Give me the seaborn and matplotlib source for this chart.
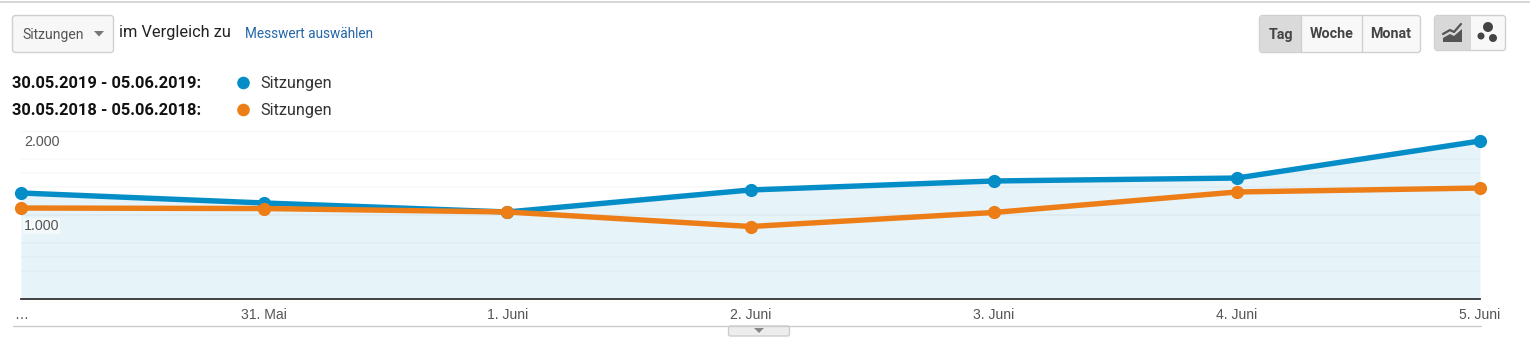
import numpy as np
import pandas as pd
import matplotlib
matplotlib.use("Agg")
import matplotlib.pyplot as plt
from matplotlib.patches import FancyBboxPatch, Circle, Polygon, Rectangle
import seaborn as sns

days = ["…", "31. Mai", "1. Juni", "2. Juni", "3. Juni", "4. Juni", "5. Juni"]
sessions_2019 = [1262, 1143, 1036, 1298, 1405, 1440, 1881]
sessions_2018 = [1083, 1077, 1036, 863, 1030, 1274, 1321]
grid_values = [333, 500, 667, 1333, 1500, 1667]
major_values = [1000, 2000]
y_labels = ["1.000", "2.000"]
period_2019 = "30.05.2019 - 05.06.2019:"
period_2018 = "30.05.2018 - 05.06.2018:"
metric = "Sitzungen"

W, H = 1530, 353
BLUE, ORANGE = "#058DC7", "#ED7E17"
ARIAL = ["Liberation Sans", "DejaVu Sans"]
sns.set_theme(style="white")
plt.rcParams["font.family"] = ["Roboto", "DejaVu Sans"]

fig = plt.figure(figsize=(W / 100, H / 100), dpi=100, facecolor="white")

# Pixel-space layer for the surrounding interface
ui = fig.add_axes([0, 0, 1, 1], zorder=0)
ui.set_xlim(0, W)
ui.set_ylim(H, 0)
ui.axis("off")


def button(x, y, w, h, fc="#F7F7F7", ec="#D0D0D0", r=3):
    ui.add_patch(FancyBboxPatch((x + r, y + r), w - 2 * r, h - 2 * r,
                                boxstyle=f"round,pad={r},rounding_size={r}",
                                fc=fc, ec=ec, lw=1))


ui.plot([0, W], [1.5, 1.5], color="#CFCFCF", lw=1.2)
ui.plot([13, 1481], [325.5, 325.5], color="#CCCCCC", lw=1)

button(12.5, 15.5, 101, 37)
ui.text(22, 34.5, metric, fontsize=10.1, color="#555555", va="center")
ui.add_patch(Polygon([[94, 31], [104, 31], [99, 36.5]], fc="#777777", ec="none"))
ui.text(119, 32, "im Vergleich zu", fontsize=11.75, color="#222222", va="center")
ui.text(245, 34.5, "Messwert auswählen", fontsize=9.85, color="#2467A8", va="center")

ui.text(12, 83.5, period_2019, fontsize=11.9, fontweight="bold", color="#111111", va="center")
ui.text(12, 110.5, period_2018, fontsize=11.9, fontweight="bold", color="#111111", va="center")
ui.add_patch(Circle((243.5, 83), 6.3, fc=BLUE, ec="none"))
ui.add_patch(Circle((243.5, 110), 6.3, fc=ORANGE, ec="none"))
ui.text(260, 83.5, metric, fontsize=11.7, color="#333333", va="center")
ui.text(260, 110.5, metric, fontsize=11.7, color="#333333", va="center")

# Tag / Woche / Monat
button(1259.5, 15.5, 161, 37, fc="#F8F8F8")
ui.add_patch(Rectangle((1260, 16), 41, 36, fc="#DADADA", ec="none"))
ui.plot([1301.5, 1301.5], [16, 52], color="#D0D0D0", lw=1)
ui.plot([1362.5, 1362.5], [16, 52], color="#D0D0D0", lw=1)
for cx, label in zip([1281, 1332, 1391], ["Tag", "Woche", "Monat"]):
    ui.text(cx, 34.5, label, fontsize=10.3, fontweight="bold", color="#444444",
            ha="center", va="center")

# Chart-type switch
button(1434.5, 15.5, 71, 35, fc="#F8F8F8")
ui.add_patch(Rectangle((1435, 16), 36, 34, fc="#D8D8D8", ec="none"))
ui.add_patch(Polygon([[1443, 42], [1443, 38], [1450, 34], [1454, 36], [1462, 29],
                      [1462, 42]], fc="#555555", ec="none"))
ui.plot([1443, 1450, 1454, 1461], [34, 30, 32, 24], color="#555555", lw=1.6)
ui.add_patch(Circle((1488, 27), 5, fc="#444444", ec="none"))
ui.add_patch(Circle((1481, 36), 3.5, fc="#444444", ec="none"))
ui.add_patch(Circle((1493, 38), 4, fc="#444444", ec="none"))

# Expander tab under the chart
button(728.5, 326, 61, 10, fc="#EDEDED", ec="#CCCCCC", r=2)
ui.add_patch(Polygon([[754, 328], [764, 328], [759, 333]], fc="#888888", ec="none"))

# Chart: x index 0..6 spans 21..1480 px, y 0..2000 spans 299..131 px
ax = fig.add_axes([21 / W, 1 - 299 / H, (1480 - 21) / W, 168 / H], zorder=1)
ax.patch.set_alpha(0)
df = pd.DataFrame({"pos": np.arange(len(days)), "s2019": sessions_2019, "s2018": sessions_2018})

ax.fill_between(df["pos"], df["s2019"], 0, color="#E6F3F9", lw=0, zorder=1)
for v in grid_values:
    ax.axhline(v, color="#000000", alpha=0.025, lw=1.2, zorder=2)
for v in major_values:
    ax.axhline(v, color="#000000", alpha=0.04, lw=1.2, zorder=2)

line_kws = dict(marker="o", markersize=9.5, markeredgewidth=0, linewidth=3.9,
                errorbar=None, legend=False, zorder=3, clip_on=False)
sns.lineplot(data=df, x="pos", y="s2019", color=BLUE, ax=ax, **line_kws)
sns.lineplot(data=df, x="pos", y="s2018", color=ORANGE, ax=ax, **line_kws)

ax.set_xlim(0, len(days) - 1)
ax.set_ylim(0, 2000)
ax.set_xlabel("")
ax.set_ylabel("")
for s in ["top", "left", "right"]:
    ax.spines[s].set_visible(False)
ax.spines["bottom"].set_color("#333333")
ax.spines["bottom"].set_linewidth(1.3)
ax.spines["bottom"].set_zorder(4)
ax.set_yticks([])
ax.set_xticks(df["pos"])
ax.set_xticklabels(days, fontsize=10.1, color="#555555", fontfamily=ARIAL)
ax.tick_params(axis="x", length=0, pad=6.5)

for v, label in zip(major_values, y_labels):
    ax.annotate(label, (0, v), xytext=(2.2, -8), textcoords="offset points",
                fontsize=10.3, color="#555555", va="center", ha="left",
                fontfamily=ARIAL, zorder=5,
                bbox=dict(fc="white", ec="none", pad=0.6, alpha=0.6))

fig.savefig("out.png", dpi=100, facecolor="white")
